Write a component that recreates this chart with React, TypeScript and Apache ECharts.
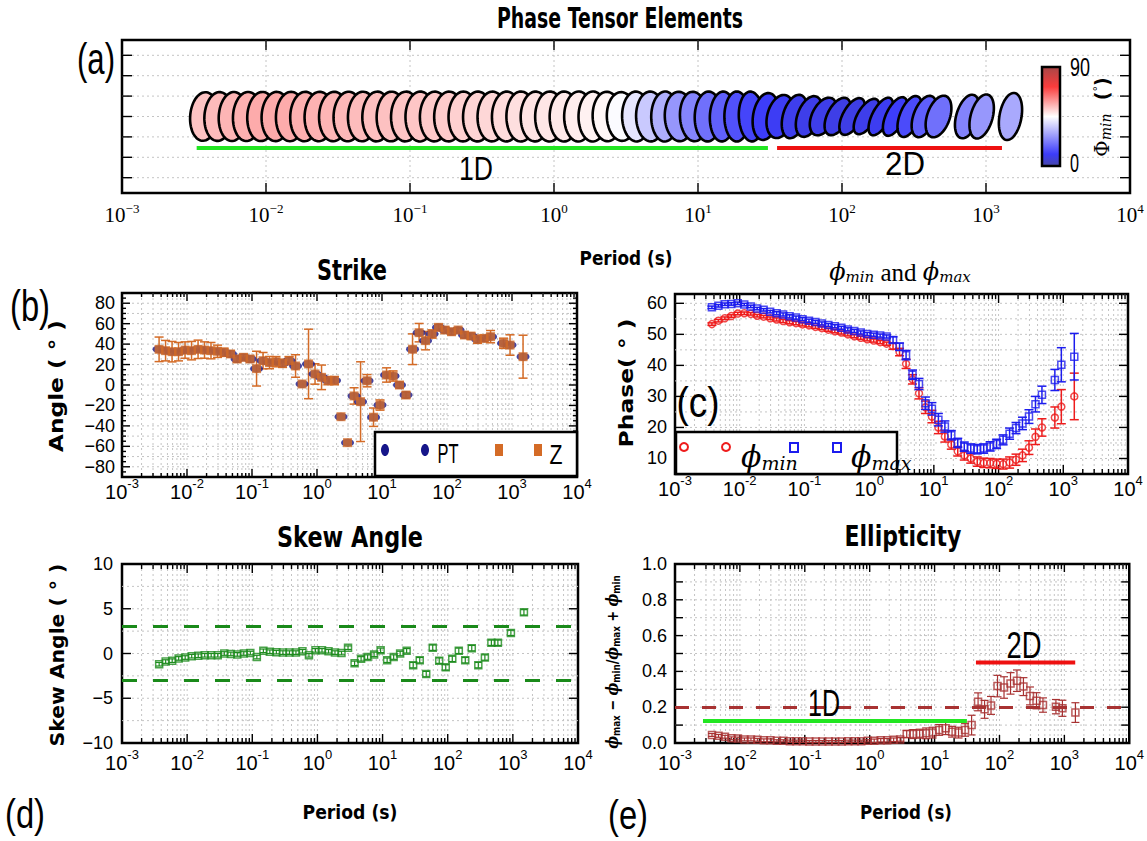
import React, { useEffect, useRef } from 'react';
import * as echarts from 'echarts';

// ---- Data (period in seconds, one value per period; null = no estimate) ----
const periods = [
  0.00372, 0.00468, 0.00589, 0.00741, 0.00933,
  0.01175, 0.0148, 0.0186, 0.0234, 0.0295,
  0.0372, 0.0468, 0.0589, 0.0741, 0.0933,
  0.1175, 0.148, 0.186, 0.234, 0.295,
  0.372, 0.468, 0.589, 0.741, 0.933,
  1.175, 1.48, 1.86, 2.34, 2.95,
  3.72, 4.68, 5.89, 7.41, 9.33,
  11.75, 14.8, 18.6, 23.4, 29.5,
  37.2, 46.8, 58.9, 74.1, 93.3,
  117.5, 148, 186, 234, 295,
  372, 468, 589, 741, 933,
  1175, 1479,
];

const strike = [
  34.9, 33.6, 32.6, 32.6, 34.2,
  33.6, 34.9, 34.2, 33.6, 33.0,
  32.0, 30.4, 25.4, 27.1, 25.4,
  16.0, 23.8, 21.9, 22.8, 21.2,
  23.8, 18.6, 1.0, 20.6, 10.8,
  7.5, 4.3, 4.3, -31, -56.4,
  -10.7, -16.3, 4.2, -31.5, -19.6,
  9.8, 8.8, 0, -9.8, 35,
  51.2, 43.4, 49.9, 56.4, 53.8,
  52.1, 53.8, 48.9, 47.9, 44.7,
  45.6, 47.3, null, 40.8, 39.1,
  null, 27.7,
];

const strikeErr = [
  12, 10, 10, 9, 8,
  9, 9, 8, 8, 6,
  4, 3, 3, 3, 3,
  17, 8, 6, 5, 4,
  4, 11, 0, 34, 10,
  12, 4, 4, 0, 0,
  8, 39, 6, 9, 5,
  7, 5, 3, 3, 15,
  9, 9, 4, 3, 3,
  3, 2, 3, 3, 4,
  3, 6, null, 5, 10,
  null, 21,
];

const phiMin = [
  53.3, 54.4, 55.2, 55.9, 56.7,
  56.8, 56.6, 56.0, 55.7, 55.2,
  54.8, 54.3, 53.9, 53.6, 53.2,
  52.9, 52.4, 52.0, 51.5, 51.0,
  50.6, 50.0, 49.4, 48.9, 48.4,
  48.0, 47.5, 47.0, 46.2, 44.3,
  40.5, 35.5, 31.0, 26.5, 23.5,
  20.0, 17.1, 14.5, 12.3, 11.0,
  10.0, 9.0, 8.6, 8.5, 8.3,
  8.2, 8.7, 9.6, 11.0, 13.5,
  17.0, 20.0, null, 23.2, 26.7,
  null, 30.0,
];

const phiMax = [
  58.7, 59.2, 59.7, 59.8, 60.0,
  59.6, 59.0, 58.3, 57.9, 57.3,
  56.8, 56.4, 55.8, 55.4, 54.9,
  54.4, 54.0, 53.5, 53.0, 52.6,
  52.1, 51.6, 51.1, 50.6, 50.1,
  49.9, 49.6, 49.3, 48.2, 46.0,
  43.3, 37.0, 34.0, 27.8, 26.0,
  22.5, 20.3, 17.5, 15.0, 13.8,
  13.2, 13.0, 13.2, 13.9, 14.7,
  16.0, 18.0, 19.8, 21.3, 23.5,
  27.5, 30.5, null, 35.3, 40.2,
  null, 42.8,
];

const phiErr = [
  0.4, 0.4, 0.4, 0.4, 0.4,
  0.4, 0.4, 0.4, 0.4, 0.4,
  0.5, 0.5, 0.5, 0.5, 0.5,
  0.5, 0.5, 0.5, 0.5, 0.5,
  0.5, 0.5, 0.5, 0.5, 0.5,
  0.5, 0.5, 0.5, 1.0, 1.2,
  1.5, 1.5, 1.8, 2.0, 2.0,
  2.0, 1.8, 1.5, 1.5, 1.5,
  1.5, 1.5, 1.5, 1.5, 1.5,
  1.6, 1.8, 1.8, 2.0, 2.2,
  2.5, 2.8, null, 3.4, 5.5,
  null, 7.5,
];

const skew = [
  -1.2, -0.9, -0.8, -0.55, -0.45,
  -0.3, -0.25, -0.2, -0.2, -0.2,
  0.0, -0.05, -0.1, 0.0, 0.05,
  -0.4, 0.3, 0.2, 0.15, 0.1,
  0.1, 0.1, 0.25, -0.2, 0.35,
  0.35, 0.25, 0.1, 0.05, 0.65,
  -1.1, -0.6, -0.4, -0.1, 0.35,
  -0.75, -0.4, 0.0, 0.3, -1.3,
  -0.75, -2.3, 0.65, -0.8, -1.55,
  -0.6, 0.3, -0.75, 0.6, -1.3,
  -0.45, 1.2, 1.2, null, 2.3,
  null, 4.6,
];

const skewErr = [
  0.2, 0.2, 0.2, 0.2, 0.2,
  0.2, 0.2, 0.2, 0.2, 0.2,
  0.2, 0.2, 0.2, 0.2, 0.2,
  0.2, 0.2, 0.2, 0.2, 0.2,
  0.2, 0.2, 0.2, 0.2, 0.2,
  0.2, 0.2, 0.2, 0.2, 0.2,
  0.25, 0.25, 0.25, 0.25, 0.25,
  0.25, 0.25, 0.25, 0.25, 0.3,
  0.3, 0.3, 0.3, 0.3, 0.3,
  0.3, 0.3, 0.3, 0.3, 0.3,
  0.3, 0.3, 0.3, null, 0.3,
  null, 0.3,
];

const ellipticity = [
  0.045, 0.04, 0.035, 0.026, 0.025,
  0.02, 0.02, 0.018, 0.015, 0.015,
  0.012, 0.012, 0.01, 0.01, 0.01,
  0.008, 0.008, 0.008, 0.008, 0.008,
  0.008, 0.01, 0.01, 0.01, 0.012,
  0.012, 0.015, 0.015, 0.018, 0.02,
  0.05, 0.05, 0.052, 0.054, 0.058,
  0.073, 0.082, 0.063, 0.058, 0.073,
  0.1, 0.23, 0.188, 0.21, 0.318,
  0.31, 0.333, 0.348, 0.315, 0.263,
  0.236, 0.212, null, 0.203, 0.194,
  null, 0.17,
];

const ellipticityErr = [
  0.008, 0.008, 0.008, 0.008, 0.008,
  0.008, 0.008, 0.008, 0.008, 0.008,
  0.006, 0.006, 0.006, 0.006, 0.006,
  0.006, 0.006, 0.006, 0.006, 0.006,
  0.006, 0.006, 0.006, 0.006, 0.006,
  0.01, 0.01, 0.01, 0.01, 0.01,
  0.02, 0.025, 0.025, 0.03, 0.03,
  0.03, 0.035, 0.03, 0.03, 0.035,
  0.055, 0.05, 0.05, 0.05, 0.06,
  0.06, 0.06, 0.06, 0.05, 0.05,
  0.045, 0.04, null, 0.04, 0.045,
  null, 0.055,
];

// ---- Axis ticks and reference levels ----
const decades = [-3, -2, -1, 0, 1, 2, 3, 4];
const minorMultipliers = [2, 3, 4, 5, 6, 7, 8, 9];
const strikeTicks = [-80, -60, -40, -20, 0, 20, 40, 60, 80];
const phaseTicks = [10, 20, 30, 40, 50, 60];
const skewTicks = [-10, -5, 0, 5, 10];
const ellipTicks = [0, 0.2, 0.4, 0.6, 0.8, 1.0];
const colorbarTicks = ['90', '0'];
const skewLimits = [3, -3];
const ellipThreshold = 0.2;

// period ranges of the 1D / 2D annotations
const oneDRangeA = [0.0033, 30.6];
const twoDRangeA = [35.4, 1291];
const oneDRangeE = [0.0027, 31.5];
const twoDRangeE = [43.4, 1470];
const oneDLevelE = 0.123;
const twoDLevelE = 0.45;
const bandLevelA = -1.54;

// blue-white-red colour scale for phi_min (0..90 degrees)
const cmapStops: [number, number[]][] = [
  [0, [70, 70, 168]],
  [0.12, [60, 60, 250]],
  [0.5, [255, 255, 255]],
  [0.8, [250, 60, 60]],
  [1, [168, 70, 70]],
];

function phiColor(v: number) {
  const t = Math.max(0, Math.min(1, v / 90));
  for (let i = 1; i < cmapStops.length; i++) {
    const [t1, c1] = cmapStops[i];
    const [t0, c0] = cmapStops[i - 1];
    if (t <= t1) {
      const f = (t - t0) / (t1 - t0);
      const c = c0.map((a, j) => Math.round(a + (c1[j] - a) * f));
      return `rgb(${c[0]},${c[1]},${c[2]})`;
    }
  }
  return 'rgb(168,70,70)';
}

const GRIDS = [
  { left: 122, top: 40, width: 1008, height: 153 },
  { left: 122, top: 293, width: 455, height: 184 },
  { left: 675, top: 294, width: 453, height: 180 },
  { left: 122, top: 564, width: 456, height: 179 },
  { left: 675, top: 564, width: 456, height: 179 },
];

const SANS_TICK = "'Liberation Sans Narrow', 'Liberation Sans', Arial, sans-serif";
const SERIF = "'Liberation Serif', 'DejaVu Serif', serif";
const TITLE_FONT = 'DejaVu Sans';
const PLAIN_FONT = 'Liberation Sans';

const lg = (p: number) => Math.log10(p);
const points = (vals: (number | null)[]) =>
  periods.map((p, i) => (vals[i] == null ? null : [lg(p), vals[i]])).filter(Boolean);
const withErr = (vals: (number | null)[], errs: (number | null)[]) =>
  periods
    .map((p, i) => (vals[i] == null || errs[i] == null ? null : [lg(p), vals[i], errs[i]]))
    .filter(Boolean);
const signed = (v: number) => (v < 0 ? '\u2212' + Math.abs(v) : String(v));

let measureCtx: CanvasRenderingContext2D | null = null;
function fitScale(text: string, font: string, target: number) {
  if (!measureCtx) measureCtx = document.createElement('canvas').getContext('2d');
  if (!measureCtx) return 1;
  measureCtx.font = font;
  const w = measureCtx.measureText(text).width;
  return w > 0 ? target / w : 1;
}

function label(
  text: string,
  x: number,
  y: number,
  o: { size: number; w: number; bold?: boolean; family?: string; rot?: number; align?: string; z?: number }
) {
  const family = o.family || PLAIN_FONT;
  const weight = o.bold ? 'bold' : 'normal';
  const sx = fitScale(text, `${weight} ${o.size}px "${family}"`, o.w);
  return {
    type: 'text',
    x,
    y,
    rotation: o.rot || 0,
    scaleX: sx,
    silent: true,
    z: o.z ?? 50,
    style: {
      text,
      fill: '#000',
      fontFamily: family,
      fontWeight: weight,
      fontSize: o.size,
      align: o.align || 'center',
      verticalAlign: 'middle',
    },
  };
}

// grid lines and inward ticks on all four sides of a panel
function frameSeries(
  gi: number,
  spec: {
    ymin: number;
    ymax: number;
    yMajor: number[];
    yMinor: number[];
    yGrid: number[];
    xMinor: boolean;
    tick: number;
    minorTick: number;
  }
) {
  return {
    type: 'custom',
    xAxisIndex: gi,
    yAxisIndex: gi,
    silent: true,
    z: 1,
    data: [[0, (spec.ymin + spec.ymax) / 2]],
    renderItem: (_p: any, api: any) => {
      const children: any[] = [];
      const [xl, yb] = api.coord([-3, spec.ymin]);
      const [xr, yt] = api.coord([4, spec.ymax]);
      const gridStyle = { stroke: '#c4c4c4', lineWidth: 1, lineDash: [2, 3] };
      const tickStyle = { stroke: '#000', lineWidth: 1.4 };
      const seg = (x1: number, y1: number, x2: number, y2: number, style: any) =>
        children.push({ type: 'line', shape: { x1, y1, x2, y2 }, style });
      decades.forEach((d) => {
        const px = api.coord([d, spec.ymin])[0];
        if (d > -3 && d < 4) seg(px, yt, px, yb, gridStyle);
        seg(px, yb, px, yb - spec.tick, tickStyle);
        seg(px, yt, px, yt + spec.tick, tickStyle);
        if (spec.xMinor && d < 4) {
          minorMultipliers.forEach((m) => {
            const qx = api.coord([d + Math.log10(m), spec.ymin])[0];
            seg(qx, yt, qx, yb, gridStyle);
            seg(qx, yb, qx, yb - spec.minorTick, tickStyle);
            seg(qx, yt, qx, yt + spec.minorTick, tickStyle);
          });
        }
      });
      spec.yGrid.forEach((v) => {
        const py = api.coord([-3, v])[1];
        seg(xl, py, xr, py, gridStyle);
      });
      spec.yMajor.forEach((v) => {
        const py = api.coord([-3, v])[1];
        seg(xl, py, xl + spec.tick, py, tickStyle);
        seg(xr, py, xr - spec.tick, py, tickStyle);
      });
      spec.yMinor.forEach((v) => {
        const py = api.coord([-3, v])[1];
        seg(xl, py, xl + spec.minorTick, py, tickStyle);
        seg(xr, py, xr - spec.minorTick, py, tickStyle);
      });
      return { type: 'group', children };
    },
  };
}

function errorBars(gi: number, data: any[], color: string, cap: number, lw: number, z: number) {
  return {
    type: 'custom',
    xAxisIndex: gi,
    yAxisIndex: gi,
    silent: true,
    z,
    data,
    renderItem: (_p: any, api: any) => {
      const x = api.value(0);
      const y = api.value(1);
      const e = api.value(2);
      if (!e) return { type: 'group', children: [] };
      const top = api.coord([x, y + e]);
      const bot = api.coord([x, y - e]);
      const h = cap / 2;
      const style = { stroke: color, lineWidth: lw };
      return {
        type: 'group',
        children: [
          { type: 'line', shape: { x1: top[0], y1: top[1], x2: bot[0], y2: bot[1] }, style },
          { type: 'line', shape: { x1: top[0] - h, y1: top[1], x2: top[0] + h, y2: top[1] }, style },
          { type: 'line', shape: { x1: bot[0] - h, y1: bot[1], x2: bot[0] + h, y2: bot[1] }, style },
        ],
      };
    },
  };
}

function hollow(gi: number, data: any[], symbol: string, size: number, color: string, z: number) {
  return {
    type: 'scatter',
    xAxisIndex: gi,
    yAxisIndex: gi,
    silent: true,
    z,
    symbol,
    symbolSize: size,
    data,
    itemStyle: { color: 'rgba(0,0,0,0)', borderColor: color, borderWidth: 1.5 },
  };
}

function band(gi: number, range: number[], level: number, color: string, z: number) {
  return {
    type: 'line',
    xAxisIndex: gi,
    yAxisIndex: gi,
    silent: true,
    z,
    symbol: 'none',
    data: range.map((p) => [lg(p), level]),
    lineStyle: { color, width: 4 },
  };
}

// pixel half-axes of a normalised phase-tensor ellipse
const ELL_SX = 15;
const ELL_SY = 25;

function buildOption() {
  const sansXLabel = (margin: number) => ({
    margin,
    color: '#000',
    formatter: (v: number) => `{b|10}{s|${v < 0 ? '-' + Math.abs(v) : v}}`,
    rich: {
      b: { fontFamily: SANS_TICK, fontSize: 20, lineHeight: 20, color: '#000' },
      s: { fontFamily: SANS_TICK, fontSize: 13, lineHeight: 13, padding: [0, 0, 18, 0], color: '#000' },
    },
  });
  const serifXLabel = {
    margin: 11,
    color: '#000',
    formatter: (v: number) => `{b|10}{s|${v < 0 ? '\u2212' + Math.abs(v) : v}}`,
    rich: {
      b: { fontFamily: SERIF, fontSize: 21, lineHeight: 22, color: '#000' },
      s: { fontFamily: SERIF, fontSize: 13, lineHeight: 13, padding: [0, 0, 14, 0], color: '#000' },
    },
  };
  const hidden = { axisLine: { show: false }, axisTick: { show: false }, splitLine: { show: false } };
  const yLab = (margin: number, formatter: any) => ({
    margin,
    fontFamily: SANS_TICK,
    fontSize: 18,
    color: '#000',
    formatter,
  });

  const ellipseRows = periods
    .map((p, i) => [lg(p), 0, phiMin[i], phiMax[i], strike[i]])
    .filter((r) => r[2] != null && r[3] != null && r[4] != null);

  const strikeMinor: number[] = [];
  for (let v = -85; v <= 85; v += 5) if (!strikeTicks.includes(v)) strikeMinor.push(v);
  const strikeGrid: number[] = [];
  for (let v = -80; v <= 80; v += 10) strikeGrid.push(v);
  const phaseGrid: number[] = [];
  for (let v = 10; v <= 60; v += 5) phaseGrid.push(v);
  const skewGrid: number[] = [];
  for (let v = -7.5; v <= 7.5; v += 2.5) skewGrid.push(v);
  const ellipMinor: number[] = [];
  for (let i = 1; i <= 9; i++) ellipMinor.push(i / 10);

  const orange = '#d46b26';
  const navy = '#16168a';
  const red = '#ee1c1c';
  const blue = '#1c1cee';
  const green = '#1e8c1e';
  const brown = '#a83232';

  const series: any[] = [
    frameSeries(0, { ymin: -3.75, ymax: 3.75, yMajor: [-3, -2, -1, 0, 1, 2, 3], yMinor: [], yGrid: [-3, -2, -1, 0, 1, 2, 3], xMinor: false, tick: 10, minorTick: 5 }),
    frameSeries(1, { ymin: -90, ymax: 90, yMajor: strikeTicks, yMinor: strikeMinor, yGrid: strikeGrid, xMinor: true, tick: 8, minorTick: 4 }),
    frameSeries(2, { ymin: 5, ymax: 63, yMajor: phaseTicks, yMinor: [], yGrid: phaseGrid, xMinor: true, tick: 9, minorTick: 5 }),
    frameSeries(3, { ymin: -10, ymax: 10, yMajor: [-5, 0, 5], yMinor: [], yGrid: skewGrid, xMinor: true, tick: 9, minorTick: 5 }),
    frameSeries(4, { ymin: 0, ymax: 1, yMajor: ellipMinor, yMinor: [], yGrid: ellipMinor, xMinor: true, tick: 8, minorTick: 5 }),

    // (a) phase tensor ellipses, later periods drawn over earlier ones
    {
      type: 'custom',
      xAxisIndex: 0,
      yAxisIndex: 0,
      silent: true,
      z: 3,
      data: ellipseRows,
      renderItem: (_p: any, api: any) => {
        const c = api.coord([api.value(0), api.value(1)]);
        const pmin = api.value(2);
        const pmax = api.value(3);
        const az = (api.value(4) * Math.PI) / 180;
        const b = pmin / pmax;
        const pts: number[][] = [];
        for (let j = 0; j < 64; j++) {
          const t = (j / 64) * Math.PI * 2;
          const e = b * Math.cos(t) * Math.cos(az) + Math.sin(t) * Math.sin(az);
          const n = -b * Math.cos(t) * Math.sin(az) + Math.sin(t) * Math.cos(az);
          pts.push([c[0] + ELL_SX * e, c[1] - ELL_SY * n]);
        }
        return {
          type: 'polygon',
          shape: { points: pts },
          style: { fill: phiColor(pmin), stroke: '#000', lineWidth: 2.6 },
        };
      },
    },
    band(0, oneDRangeA, bandLevelA, '#22e622', 2),
    band(0, twoDRangeA, bandLevelA, '#ee1111', 2),

    // (b) strike
    errorBars(1, withErr(strike, strikeErr), orange, 9, 1.5, 2),
    {
      type: 'scatter', xAxisIndex: 1, yAxisIndex: 1, silent: true, z: 3,
      symbol: 'circle', symbolSize: [13, 8], data: points(strike),
      itemStyle: { color: navy },
    },
    {
      type: 'scatter', xAxisIndex: 1, yAxisIndex: 1, silent: true, z: 4,
      symbol: 'rect', symbolSize: 9, data: points(strike),
      itemStyle: { color: orange },
    },

    // (c) phi_min / phi_max
    errorBars(2, withErr(phiMin, phiErr), red, 9, 1.5, 2),
    hollow(2, points(phiMin), 'circle', 7, red, 3),
    errorBars(2, withErr(phiMax, phiErr), blue, 9, 1.5, 4),
    hollow(2, points(phiMax), 'rect', 7, blue, 5),

    // (d) skew
    errorBars(3, withErr(skew, skewErr), green, 7, 1.2, 2),
    {
      ...hollow(3, points(skew), 'rect', 7, green, 3),
      markLine: {
        silent: true,
        symbol: 'none',
        label: { show: false },
        lineStyle: { color: '#1a8a1a', width: 3, type: [15, 16] },
        data: skewLimits.map((v) => ({ yAxis: v })),
      },
    },

    // (e) ellipticity
    errorBars(4, withErr(ellipticity, ellipticityErr), brown, 8, 1.2, 2),
    {
      ...hollow(4, points(ellipticity), 'rect', 7, brown, 3),
      markLine: {
        silent: true,
        symbol: 'none',
        label: { show: false },
        lineStyle: { color: brown, width: 3, type: [14, 13] },
        data: [{ yAxis: ellipThreshold }],
      },
    },
    band(4, oneDRangeE, oneDLevelE, '#22e622', 4),
    band(4, twoDRangeE, twoDLevelE, '#ee1111', 4),
  ];

  const xAxis = GRIDS.map((_, i) => ({
    type: 'value',
    gridIndex: i,
    min: -3,
    max: 4,
    interval: 1,
    ...hidden,
    axisLabel: i === 0 ? serifXLabel : sansXLabel(i >= 3 ? 10 : 5),
  }));

  const yAxis = [
    { type: 'value', gridIndex: 0, min: -3.75, max: 3.75, ...hidden, axisLabel: { show: false } },
    {
      type: 'value', gridIndex: 1, min: -90, max: 90, interval: 10, ...hidden,
      axisLabel: yLab(7, (v: number) => (strikeTicks.includes(v) ? signed(v) : '')),
    },
    {
      type: 'value', gridIndex: 2, min: 5, max: 63, interval: 5, ...hidden,
      axisLabel: yLab(8, (v: number) => (phaseTicks.includes(v) ? String(v) : '')),
    },
    {
      type: 'value', gridIndex: 3, min: -10, max: 10, interval: 5, ...hidden,
      axisLabel: yLab(9, (v: number) => (skewTicks.includes(v) ? signed(v) : '')),
    },
    {
      type: 'value', gridIndex: 4, min: 0, max: 1, interval: 0.2, ...hidden,
      axisLabel: yLab(8, (v: number) =>
        ellipTicks.some((t) => Math.abs(t - v) < 1e-6) ? v.toFixed(1) : ''
      ),
    },
  ];

  const rot = Math.PI / 2;
  const graphic: any[] = [
    label('Phase Tensor Elements', 620, 18, { size: 29, w: 246, bold: true, family: TITLE_FONT }),
    label('Period (s)', 626, 258, { size: 20, w: 93, bold: true, family: TITLE_FONT }),
    label('Strike', 352, 270, { size: 28, w: 70, bold: true, family: TITLE_FONT }),
    label('Skew Angle', 350, 537, { size: 28, w: 146, bold: true, family: TITLE_FONT }),
    label('Ellipticity', 903, 537, { size: 28, w: 117, bold: true, family: TITLE_FONT }),
    label('Period (s)', 350, 812, { size: 20, w: 95, bold: true, family: TITLE_FONT }),
    label('Period (s)', 906, 812, { size: 20, w: 92, bold: true, family: TITLE_FONT }),
    label('(a)', 96, 59, { size: 44, w: 38 }),
    label('(b)', 30, 306, { size: 44, w: 40 }),
    label('(c)', 698, 402, { size: 42, w: 43 }),
    label('(d)', 25, 814, { size: 40, w: 40 }),
    label('(e)', 628, 815, { size: 40, w: 40 }),
    label('1D', 476, 168, { size: 34, w: 34 }),
    label('2D', 905, 163, { size: 34, w: 40 }),
    label('1D', 824, 703, { size: 37, w: 32 }),
    label('2D', 1024, 645, { size: 37, w: 35 }),
    label('Angle ( \u00b0 )', 56, 386, { size: 19, w: 132, bold: true, family: TITLE_FONT, rot }),
    label('Phase( \u00b0 )', 626, 383, { size: 19, w: 129, bold: true, family: TITLE_FONT, rot }),
    label('Skew Angle ( \u00b0 )', 58, 655, { size: 19, w: 183, bold: true, family: TITLE_FONT, rot }),
    {
      type: 'text', x: 612, y: 662, rotation: rot, scaleX: 0.8, silent: true, z: 50,
      style: {
        text: '{p|\u03d5}{s|max}{t| \u2212 }{p|\u03d5}{s|min}{t|/}{p|\u03d5}{s|max}{t| + }{p|\u03d5}{s|min}',
        align: 'center', verticalAlign: 'middle',
        rich: {
          p: { fontFamily: 'DejaVu Serif', fontStyle: 'italic', fontWeight: 'bold', fontSize: 17, fill: '#000' },
          s: { fontFamily: 'DejaVu Sans', fontWeight: 'bold', fontSize: 11, padding: [8, 0, 0, 0], fill: '#000' },
          t: { fontFamily: 'DejaVu Sans', fontWeight: 'bold', fontSize: 16, fill: '#000' },
        },
      },
    },
    {
      type: 'text', x: 900, y: 272, silent: true, z: 50,
      style: {
        text: '{p|\u03d5}{s|min}{t| and }{p|\u03d5}{s|max}',
        align: 'center', verticalAlign: 'middle',
        rich: {
          p: { fontFamily: 'DejaVu Serif', fontStyle: 'italic', fontSize: 24, fill: '#000' },
          s: { fontFamily: 'DejaVu Serif', fontStyle: 'italic', fontSize: 15, padding: [10, 0, 0, 0], fill: '#000' },
          t: { fontFamily: 'Liberation Serif', fontSize: 25, fill: '#000' },
        },
      },
    },

    // colour bar for phi_min
    {
      type: 'rect', silent: true, z: 50,
      shape: { x: 1042, y: 67, width: 18, height: 99 },
      style: {
        stroke: '#000',
        lineWidth: 2.5,
        fill: new echarts.graphic.LinearGradient(
          0, 0, 0, 1,
          cmapStops.map(([t, c]) => ({ offset: 1 - t, color: `rgb(${c[0]},${c[1]},${c[2]})` })).reverse()
        ),
      },
    },
    label(colorbarTicks[0], 1070, 67, { size: 25, w: 20, align: 'left' }),
    label(colorbarTicks[1], 1070, 163, { size: 25, w: 9, align: 'left' }),
    {
      type: 'text', x: 1102, y: 117, rotation: rot, silent: true, z: 50,
      style: {
        text: '{P|\u03a6}{s|min}{t|  (}{d|\u00b0}{t|)}',
        align: 'center', verticalAlign: 'middle',
        rich: {
          P: { fontFamily: 'DejaVu Serif', fontSize: 20, fill: '#000' },
          s: { fontFamily: 'DejaVu Serif', fontStyle: 'italic', fontSize: 14, padding: [8, 0, 0, 0], fill: '#000' },
          t: { fontFamily: 'DejaVu Sans', fontWeight: 'bold', fontSize: 19, fill: '#000' },
          d: { fontFamily: 'DejaVu Sans', fontSize: 11, padding: [0, 0, 10, 0], fill: '#000' },
        },
      },
    },

    // legend of (b)
    { type: 'rect', silent: true, z: 60, shape: { x: 375, y: 432, width: 202, height: 44 }, style: { fill: '#fff', stroke: '#000', lineWidth: 2.5 } },
    { type: 'ellipse', silent: true, z: 61, shape: { cx: 385, cy: 450, rx: 4, ry: 6 }, style: { fill: navy } },
    { type: 'ellipse', silent: true, z: 61, shape: { cx: 425, cy: 450, rx: 4, ry: 6 }, style: { fill: navy } },
    label('PT', 448, 453, { size: 28, w: 21, z: 62 }),
    { type: 'rect', silent: true, z: 61, shape: { x: 495, y: 444, width: 8, height: 12 }, style: { fill: orange } },
    { type: 'rect', silent: true, z: 61, shape: { x: 534, y: 444, width: 8, height: 12 }, style: { fill: orange } },
    label('Z', 556, 454, { size: 28, w: 13, z: 62 }),

    // legend of (c)
    { type: 'rect', silent: true, z: 60, shape: { x: 676, y: 432, width: 221, height: 42 }, style: { fill: '#fff', stroke: '#000', lineWidth: 2.5 } },
    { type: 'circle', silent: true, z: 61, shape: { cx: 684, cy: 447, r: 4 }, style: { fill: 'none', stroke: red, lineWidth: 2 } },
    { type: 'circle', silent: true, z: 61, shape: { cx: 726, cy: 447, r: 4 }, style: { fill: 'none', stroke: red, lineWidth: 2 } },
    { type: 'rect', silent: true, z: 61, shape: { x: 790, y: 443, width: 8, height: 9 }, style: { fill: 'none', stroke: blue, lineWidth: 2 } },
    { type: 'rect', silent: true, z: 61, shape: { x: 833, y: 443, width: 8, height: 9 }, style: { fill: 'none', stroke: blue, lineWidth: 2 } },
    {
      type: 'text', x: 741, y: 456, silent: true, z: 62,
      style: {
        text: '{p|\u03d5}{s|min}', align: 'left', verticalAlign: 'middle',
        rich: {
          p: { fontFamily: 'DejaVu Serif', fontStyle: 'italic', fontSize: 30, fill: '#000' },
          s: { fontFamily: 'DejaVu Serif', fontStyle: 'italic', fontSize: 19, padding: [14, 0, 0, 0], fill: '#000' },
        },
      },
    },
    {
      type: 'text', x: 851, y: 456, silent: true, z: 62,
      style: {
        text: '{p|\u03d5}{s|max}', align: 'left', verticalAlign: 'middle',
        rich: {
          p: { fontFamily: 'DejaVu Serif', fontStyle: 'italic', fontSize: 30, fill: '#000' },
          s: { fontFamily: 'DejaVu Serif', fontStyle: 'italic', fontSize: 19, padding: [14, 0, 0, 0], fill: '#000' },
        },
      },
    },
  ];

  return {
    animation: false,
    backgroundColor: '#fff',
    textStyle: { fontFamily: PLAIN_FONT },
    grid: GRIDS.map((g) => ({
      ...g,
      show: true,
      borderColor: '#000',
      borderWidth: 2.5,
      backgroundColor: 'rgba(0,0,0,0)',
      containLabel: false,
    })),
    xAxis,
    yAxis,
    series,
    graphic,
  };
}

export default function App() {
  const ref = useRef<HTMLDivElement>(null);
  useEffect(() => {
    if (!ref.current) return;
    const chart = echarts.init(ref.current, undefined, { renderer: 'svg' });
    chart.setOption(buildOption() as any);
    return () => chart.dispose();
  }, []);
  return (
    <div
      ref={ref}
      style={{ position: 'fixed', left: 0, top: 0, width: 1147, height: 841, background: '#fff' }}
    />
  );
}
